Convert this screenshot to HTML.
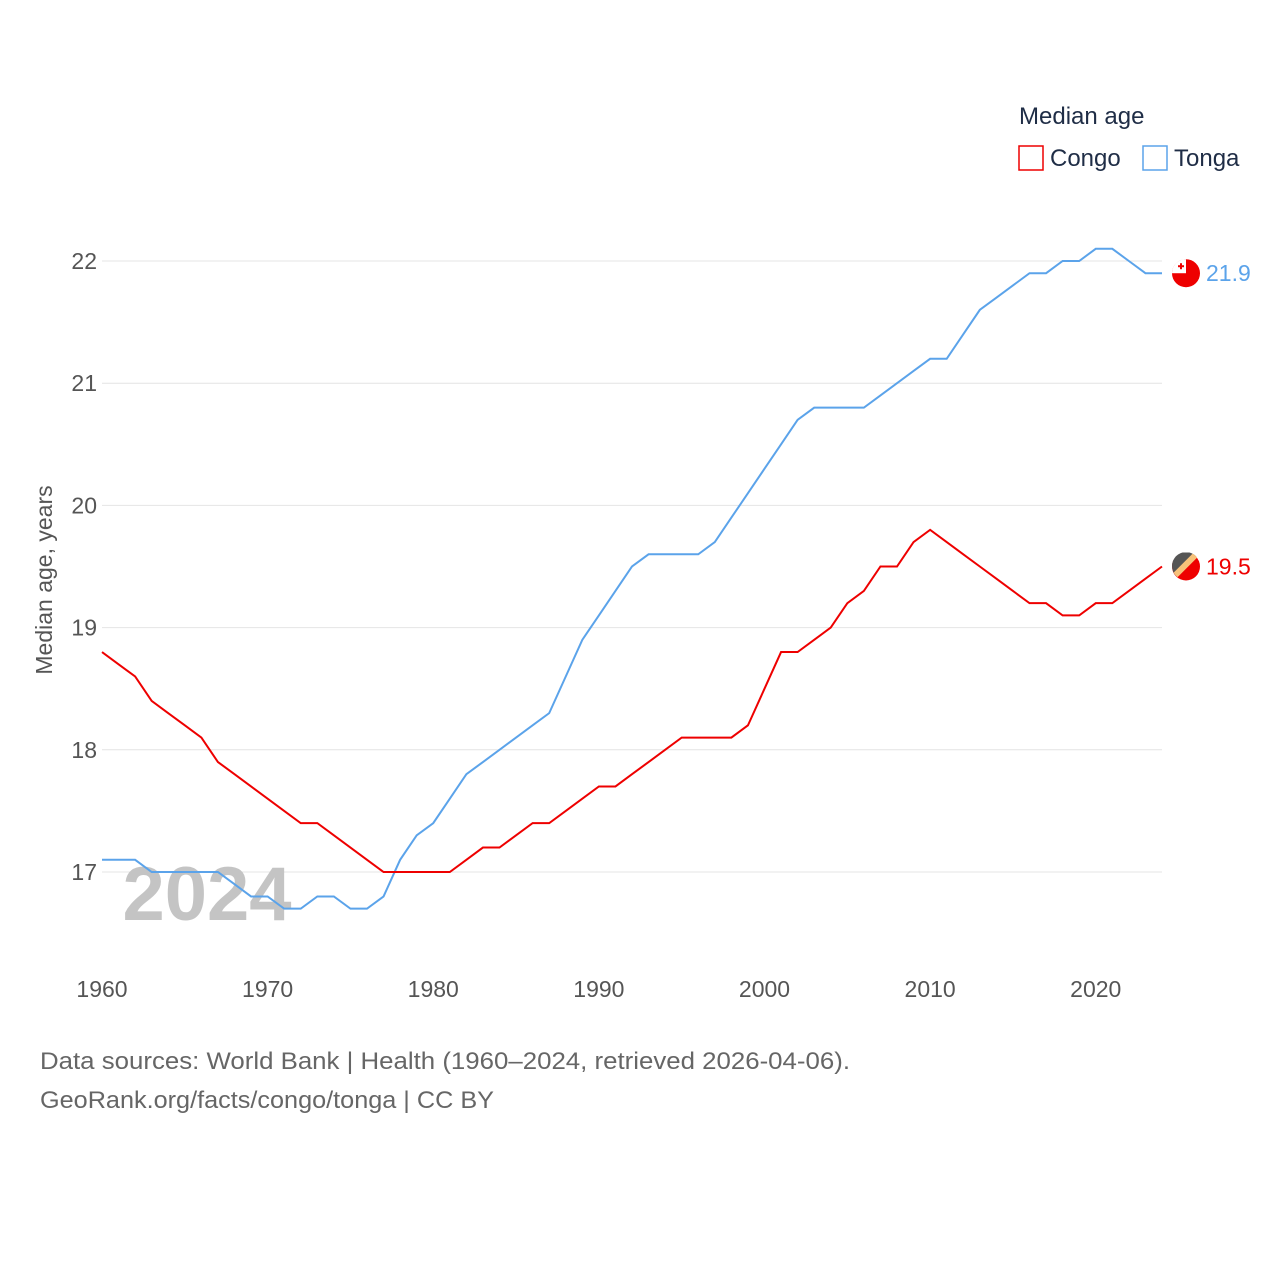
<!DOCTYPE html>
<html><head><meta charset="utf-8"><style>
body{margin:0;background:#fff;font-family:"Liberation Sans",sans-serif}
svg text{font-family:"Liberation Sans",sans-serif}
</style></head><body>
<svg id="chart" width="1280" height="1280">
<defs>
<clipPath id="cTonga"><circle cx="1186" cy="273" r="14"/></clipPath>
<clipPath id="cCongo"><circle cx="1186" cy="566" r="14"/></clipPath>
</defs>
<g id="grid"></g><g id="axes"></g>
<text x="207" y="920" font-size="76" font-weight="bold" fill="#c4c4c4" text-anchor="middle">2024</text>
<g id="series"></g>
<text x="52" y="580" font-size="23" fill="#555" text-anchor="middle" transform="rotate(-90 52 580)">Median age, years</text>
<text x="1019" y="124" font-size="24" fill="#1f2d46">Median age</text>
<g><rect x="1019" y="146" width="24" height="24" fill="none" stroke="#ee0000" stroke-width="1.5"/><text x="1050" y="166" font-size="24" fill="#1f2d46">Congo</text></g>
<g><rect x="1143" y="146" width="24" height="24" fill="none" stroke="#5ba3ea" stroke-width="1.5"/><text x="1174" y="166" font-size="24" fill="#1f2d46">Tonga</text></g>
<text x="40" y="1069" font-size="24" fill="#666" textLength="810" lengthAdjust="spacingAndGlyphs">Data sources: World Bank | Health (1960–2024, retrieved 2026-04-06).</text>
<text x="40" y="1108" font-size="24" fill="#666" textLength="454" lengthAdjust="spacingAndGlyphs">GeoRank.org/facts/congo/tonga | CC BY</text>
</svg>
<script>
const years=[];for(let y=1960;y<=2024;y++)years.push(y);
const congo=[18.8,18.7,18.6,18.4,18.3,18.2,18.1,17.9,17.8,17.7,17.6,17.5,17.4,17.4,17.3,17.2,17.1,17.0,17.0,17.0,17.0,17.0,17.1,17.2,17.2,17.3,17.4,17.4,17.5,17.6,17.7,17.7,17.8,17.9,18.0,18.1,18.1,18.1,18.1,18.2,18.5,18.8,18.8,18.9,19.0,19.2,19.3,19.5,19.5,19.7,19.8,19.7,19.6,19.5,19.4,19.3,19.2,19.2,19.1,19.1,19.2,19.2,19.3,19.4,19.5];
const tonga=[17.1,17.1,17.1,17.0,17.0,17.0,17.0,17.0,16.9,16.8,16.8,16.7,16.7,16.8,16.8,16.7,16.7,16.8,17.1,17.3,17.4,17.6,17.8,17.9,18.0,18.1,18.2,18.3,18.6,18.9,19.1,19.3,19.5,19.6,19.6,19.6,19.6,19.7,19.9,20.1,20.3,20.5,20.7,20.8,20.8,20.8,20.8,20.9,21.0,21.1,21.2,21.2,21.4,21.6,21.7,21.8,21.9,21.9,22.0,22.0,22.1,22.1,22.0,21.9,21.9];
const yTicks=[17,18,19,20,21,22];
const xTicks=[1960,1970,1980,1990,2000,2010,2020];
const NS='http://www.w3.org/2000/svg';
const X=y=>102+(y-1960)*(1162-102)/64;
const Y=v=>872-(v-17)*(872-261)/5;
function mk(t,a,p){const e=document.createElementNS(NS,t);for(const k in a)e.setAttribute(k,a[k]);p.appendChild(e);return e;}
const grid=document.getElementById('grid'),axes=document.getElementById('axes'),ser=document.getElementById('series');
yTicks.forEach(v=>{
 const l=mk('line',{x1:102,x2:1162,y1:Y(v),y2:Y(v),stroke:'#e4e4e4','stroke-width':1},grid);
 
 
 const t=mk('text',{x:97,y:Y(v)+8,'font-size':23,fill:'#555','text-anchor':'end'},axes);t.textContent=v;
 
 
});
xTicks.forEach(v=>{
 const t=mk('text',{x:X(v),y:997,'font-size':23,fill:'#555','text-anchor':'middle'},axes);t.textContent=v;
 
 
});
function line(data,color,name){
 const p=mk('polyline',{points:data.map((v,i)=>X(years[i])+','+Y(v)).join(' '),fill:'none',stroke:color,'stroke-width':2},ser);
 
 
 const last=data[data.length-1];
 const cy=Y(last);
 const g=mk('g',{},ser);
 
 
 mk('circle',{cx:1186,cy:cy,r:14,fill:'#ee0000'},g);
 if(name==='tonga'){
  mk('rect',{x:1172,y:cy-14,width:14,height:14,fill:'#fff','clip-path':'url(#cTonga)'},g);
  mk('rect',{x:1178,y:cy-8,width:6,height:2,fill:'#ee0000'},g);
  mk('rect',{x:1180,y:cy-10,width:2,height:6,fill:'#ee0000'},g);
 } else {
  mk('polygon',{points:`1172,${cy-14} 1200,${cy-14} 1172,${cy+14}`,fill:'#555','clip-path':'url(#cCongo)'},g);
  mk('line',{x1:1200,y1:cy-16,x2:1172,y2:cy+12,stroke:'#f7c27a','stroke-width':6,'clip-path':'url(#cCongo)'},g);
 }
 const t=mk('text',{x:1206,y:cy+8,'font-size':23,fill:color},ser);t.textContent=last.toFixed(1);
 
 
}
line(tonga,'#5ba3ea','tonga');
line(congo,'#ee0000','congo');
</script>
</body></html>
